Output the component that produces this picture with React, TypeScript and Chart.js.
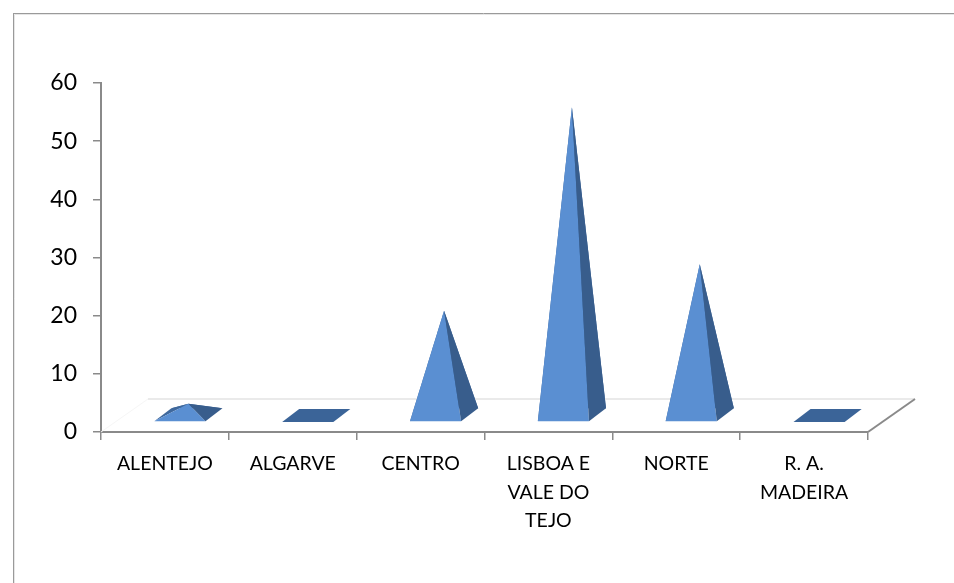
import React, { useEffect, useRef } from "react";
import { Chart, registerables } from "chart.js";

Chart.register(...registerables);

// Regions and their counts
const categories: string[][] = [
  ["ALENTEJO"],
  ["ALGARVE"],
  ["CENTRO"],
  ["LISBOA E", "VALE DO", "TEJO"],
  ["NORTE"],
  ["R. A.", "MADEIRA"],
];
const values: number[] = [2, 0, 18, 53, 26, 0];

// Value axis range
const yMin = 0;
const yMax = 60;
const yStep = 10;

const FONT = "Lato, 'Open Sans', sans-serif";
const FRONT = "#5a8fd2";
const SIDE = "#385d8c";
const BACK = "#3f689c";
const FLAT = "#3b6498";
const AXIS = "#8a8a8a";
const FRAME = "#9a9a9a";
// oblique offset of the floor (front edge to back wall)
const DEPTH_X = 47;
const DEPTH_Y = 33;

type Pt = [number, number];

function fillPoly(ctx: CanvasRenderingContext2D, pts: Pt[], color: string) {
  ctx.beginPath();
  ctx.moveTo(pts[0][0], pts[0][1]);
  for (let i = 1; i < pts.length; i++) ctx.lineTo(pts[i][0], pts[i][1]);
  ctx.closePath();
  ctx.fillStyle = color;
  ctx.fill();
}

function line(ctx: CanvasRenderingContext2D, x1: number, y1: number, x2: number, y2: number) {
  ctx.beginPath();
  ctx.moveTo(x1, y1);
  ctx.lineTo(x2, y2);
  ctx.stroke();
}

const framePlugin = {
  id: "frame",
  beforeDraw(chart: any) {
    const { ctx, width, height } = chart;
    ctx.save();
    ctx.fillStyle = "#ffffff";
    ctx.fillRect(0, 0, width, height);
    ctx.strokeStyle = FRAME;
    ctx.lineWidth = 1;
    line(ctx, 13.5, 13, 13.5, height);
    line(ctx, 13, 13.5, width, 13.5);
    ctx.strokeStyle = "#e6e6e6";
    line(ctx, 14.5, 14.5, 14.5, height);
    line(ctx, 14.5, 14.5, width, 14.5);
    ctx.restore();
  },
};

const pyramidPlugin = {
  id: "pyramids",
  beforeDatasetsDraw(chart: any) {
    const { ctx, chartArea: a } = chart;
    ctx.save();
    // back edge of the floor
    ctx.strokeStyle = "#e3e3e3";
    ctx.lineWidth = 1.5;
    line(ctx, a.left + DEPTH_X, a.bottom - DEPTH_Y, a.right + DEPTH_X, a.bottom - DEPTH_Y);
    ctx.strokeStyle = "#f6f6f6";
    ctx.lineWidth = 1;
    line(ctx, a.left, a.bottom, a.left + DEPTH_X, a.bottom - DEPTH_Y);
    // right edge of the floor
    ctx.strokeStyle = AXIS;
    ctx.lineWidth = 2;
    line(ctx, a.right, a.bottom, a.right + DEPTH_X, a.bottom - DEPTH_Y);
    ctx.restore();
  },
  afterDatasetsDraw(chart: any) {
    const { ctx } = chart;
    const meta = chart.getDatasetMeta(0);
    ctx.save();
    meta.data.forEach((el: any) => {
      const { x, y, base, width } = el.getProps(["x", "y", "base", "width"], true);
      const cx = x + DEPTH_X / 2;
      const cy = base - DEPTH_Y / 2;
      const apexY = y - DEPTH_Y / 2;
      const hw = width / 2;
      const dx = width / 6;
      const dy = width / 7.8;
      const fl: Pt = [cx - hw - dx, cy + dy];
      const fr: Pt = [cx + hw - dx, cy + dy];
      const br: Pt = [cx + hw + dx, cy - dy];
      const bl: Pt = [cx - hw + dx, cy - dy];
      const apex: Pt = [cx, apexY];
      if (Math.abs(base - y) < 0.5) {
        fillPoly(ctx, [fl, fr, br, bl], FLAT);
        return;
      }
      fillPoly(ctx, [bl, br, apex], BACK);
      fillPoly(ctx, [fl, bl, apex], BACK);
      fillPoly(ctx, [fl, fr, apex], FRONT);
      fillPoly(ctx, [fr, br, apex], SIDE);
    });
    ctx.restore();
  },
};

export default function App() {
  const canvasRef = useRef<HTMLCanvasElement | null>(null);

  useEffect(() => {
    const canvas = canvasRef.current;
    if (!canvas) return;
    const chart = new Chart(canvas, {
      type: "bar",
      data: {
        labels: categories,
        datasets: [
          {
            data: values,
            backgroundColor: "rgba(0,0,0,0)",
            borderWidth: 0,
            categoryPercentage: 0.8,
            barPercentage: 0.5,
          },
        ],
      },
      plugins: [framePlugin, pyramidPlugin],
      options: {
        responsive: false,
        animation: false,
        devicePixelRatio: 1,
        layout: { padding: { left: 0, right: 86, top: 83, bottom: 0 } },
        plugins: {
          legend: { display: false },
          tooltip: { enabled: false },
        },
        scales: {
          x: {
            offset: true,
            afterFit: (scale: any) => {
              scale.height = 151;
            },
            grid: {
              offset: true,
              drawOnChartArea: false,
              drawTicks: true,
              tickLength: 8,
              color: AXIS,
              lineWidth: 1.5,
            },
            border: { display: true, color: AXIS, width: 2 },
            ticks: {
              color: "#000000",
              padding: 10,
              maxRotation: 0,
              autoSkip: false,
              font: { family: FONT, size: 19.5, lineHeight: 28.3 / 19.5 },
            },
          },
          y: {
            min: yMin,
            max: yMax,
            afterFit: (scale: any) => {
              scale.width = 101;
            },
            grid: {
              drawOnChartArea: false,
              drawTicks: true,
              tickLength: 8,
              color: AXIS,
              lineWidth: 1.5,
            },
            border: { display: true, color: AXIS, width: 2 },
            ticks: {
              stepSize: yStep,
              color: "#000000",
              padding: 16,
              font: { family: FONT, size: 23 },
            },
          },
        },
      },
    });
    return () => chart.destroy();
  }, []);

  return (
    <div style={{ position: "absolute", left: 0, top: 0, width: 954, height: 583, background: "#fff" }}>
      <canvas ref={canvasRef} width={954} height={583} style={{ display: "block" }} />
    </div>
  );
}
